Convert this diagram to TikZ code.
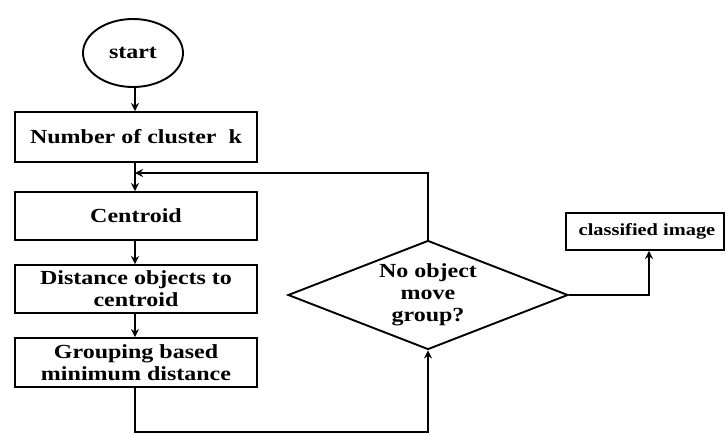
\documentclass[tikz,border=0pt]{standalone}
\usepackage{fontspec}
\setmainfont{Liberation Serif}[FakeStretch=1.2]
\usetikzlibrary{shapes.geometric,arrows.meta}
\begin{document}
\begin{tikzpicture}[x=1pt,y=-1pt,
  line width=1.9pt,
  every node/.style={font=\fontsize{20}{22}\selectfont\bfseries, align=center, inner sep=0pt},
  procbox/.style={draw, rectangle, minimum width=242, minimum height=48},
  flow/.style={-{Stealth[length=8pt,width=8pt]}}]
\useasboundingbox (0,0) rectangle (725,434);

% nodes
\node[draw, ellipse, minimum width=100, minimum height=68] (start) at (133,53) {start};
\node[procbox, minimum height=50] (num) at (136,137) {Number of cluster\ \ k};
\node[procbox] (cent) at (136,216) {Centroid};
\node[procbox] (dist) at (136,289) {Distance objects to\\centroid};
\node[procbox, minimum height=49] (group) at (136,362.5) {Grouping based\\minimum distance};
\node[draw, diamond, aspect=2.57, minimum width=280, minimum height=109] (dec) at (428,295) {No object\\move\\group?};
\node[draw, rectangle, minimum width=158, minimum height=37,
      font=\fontsize{17}{19}\selectfont\bfseries] (out) at (645,231.5) {\hspace*{4pt}classified image};

% helper points
\coordinate (merge) at (135,173);
\coordinate (low) at (135,432);
\coordinate (turn) at (649,295);

% connectors
\draw[flow] (start.south -| merge) -- (num.north -| merge);
\draw[flow] (num.south -| merge) -- (cent.north -| merge);
\draw[flow] (dec.north) |- (merge);
\draw[flow] (cent.south -| merge) -- (dist.north -| merge);
\draw[flow] (dist.south -| merge) -- (group.north -| merge);
\draw[flow] (group.south -| low) -- (low) -| (dec.south);
\draw[flow] (dec.east) -- (turn) -- (turn |- out.south);
\end{tikzpicture}
\end{document}
